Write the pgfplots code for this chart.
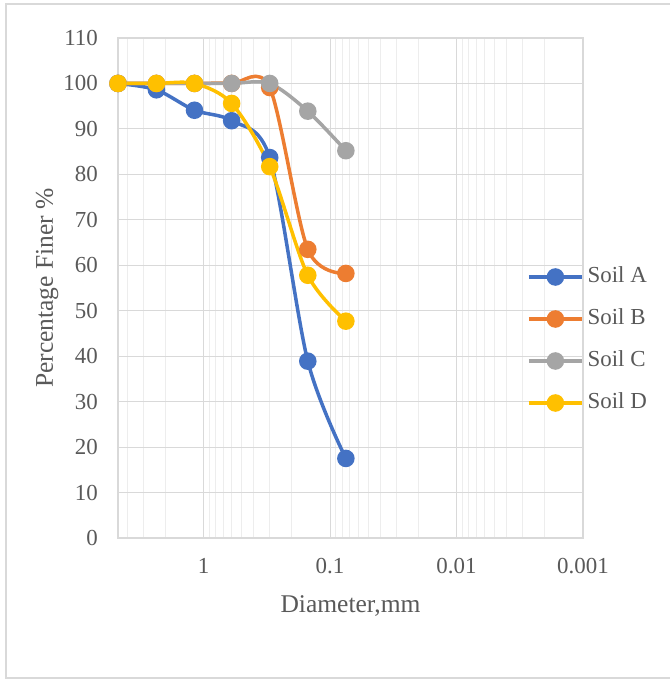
\documentclass[border=0pt]{standalone}
\usepackage{fontspec}
\setmainfont{Liberation Serif}
\usepackage{pgfplots}
\pgfplotsset{compat=1.18}
\definecolor{soilA}{HTML}{4472C4}
\definecolor{soilB}{HTML}{ED7D31}
\definecolor{soilC}{HTML}{A5A5A5}
\definecolor{soilD}{HTML}{FFC000}
\definecolor{txt}{HTML}{595959}
\definecolor{majg}{HTML}{D9D9D9}
\definecolor{ming}{HTML}{EDEDED}
\begin{document}
\begin{tikzpicture}[x=1bp,y=1bp]
\useasboundingbox (0,0) rectangle (670,679);
\fill[white] (0,0) rectangle (670,679);
\draw[majg, line width=1.3bp] (6,1) rectangle (680,675);
\begin{axis}[
  at={(118bp,141bp)}, anchor=south west,
  scale only axis, width=465bp, height=500bp,
  xmode=log, x dir=reverse,
  xmin=0.001, xmax=4.75,
  ymin=0, ymax=110, ytick distance=10,
  xtick={0.001,0.01,0.1,1},
  xticklabels={0.001,0.01,0.1,1},
  log basis x=10,
  minor xtick={0.002,0.003,0.004,0.005,0.006,0.007,0.008,0.009,
               0.02,0.03,0.04,0.05,0.06,0.07,0.08,0.09,
               0.2,0.3,0.4,0.5,0.6,0.7,0.8,0.9,2,3,4},
  xmajorgrids, ymajorgrids, xminorgrids,
  major grid style={majg, line width=1bp},
  minor grid style={ming, line width=1bp},
  major tick length=0pt, minor tick length=0pt,
  axis line style={majg, line width=1.3bp},
  /pgf/number format/assume math mode=true,
  tick label style={font=\fontsize{23}{27}\selectfont, text=txt},
  xticklabel style={inner sep=0pt, anchor=north, yshift=-20bp},
  yticklabel style={inner sep=0pt, anchor=east, xshift=-20bp},
  xlabel={Diameter,mm},
  ylabel={Percentage Finer \%},
  label style={font=\fontsize{25.6}{30}\selectfont, text=txt, inner sep=0pt},
  xlabel style={at={(axis description cs:0.5,-0.15)}, anchor=base},
  ylabel style={at={(axis description cs:-0.14,0.5)}, anchor=base},
  every axis plot/.append style={smooth, line width=3.5bp, mark=*, mark size=7bp, mark options={solid}},
  legend style={at={(axis description cs:0.873,0.396)}, anchor=west, draw=none, fill=none,
    font=\fontsize{23}{27}\selectfont, text=txt,
    nodes={inner sep=0pt, text height=16bp, text depth=5bp},
    row sep=21bp, /tikz/every odd column/.append style={column sep=4bp}},
  legend cell align=left,
  legend image code/.code={\draw[mark repeat=2,mark phase=2,#1] plot coordinates {(0bp,0bp) (26.5bp,0bp) (53bp,0bp)};},
  clip=false,
]
\addplot[soilA, mark options={fill=soilA, draw=soilA}] coordinates {
(4.75,100) (2.36,98.6) (1.18,94.1) (0.6,91.8) (0.3,83.7) (0.15,38.9) (0.075,17.5)};
\addlegendentry{Soil A}
\addplot[soilB, mark options={fill=soilB, draw=soilB}] coordinates {
(4.75,100) (2.36,100) (1.18,100) (0.6,100) (0.3,99.1) (0.15,63.5) (0.075,58.2)};
\addlegendentry{Soil B}
\addplot[soilC, mark options={fill=soilC, draw=soilC}] coordinates {
(4.75,100) (2.36,100) (1.18,100) (0.6,100) (0.3,100) (0.15,93.9) (0.075,85.2)};
\addlegendentry{Soil C}
\addplot[soilD, mark options={fill=soilD, draw=soilD}] coordinates {
(4.75,100) (2.36,100) (1.18,100) (0.6,95.6) (0.3,81.7) (0.15,57.8) (0.075,47.7)};
\addlegendentry{Soil D}
\end{axis}
\end{tikzpicture}
\end{document}
